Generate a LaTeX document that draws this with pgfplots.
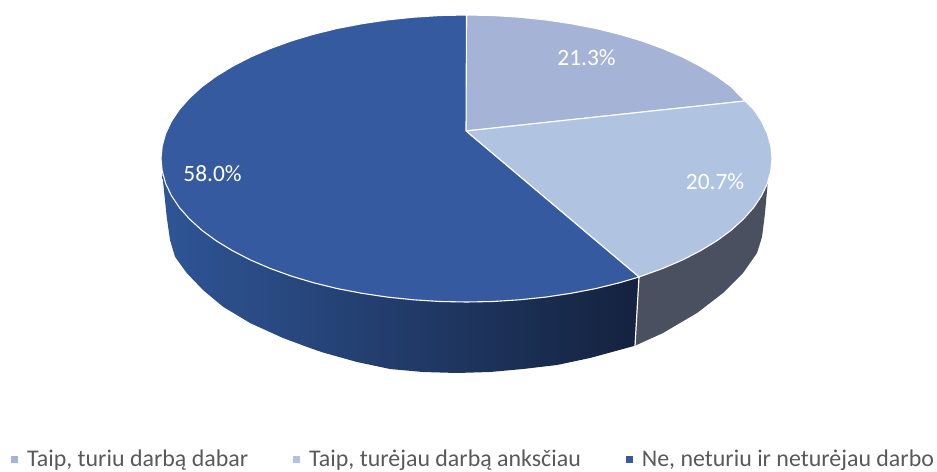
\documentclass[border=0pt]{standalone}
\usepackage{fontspec}
\setmainfont{Carlito}
\usepackage{pgfplots}
\pgfplotsset{compat=1.18}
\definecolor{sliceA}{HTML}{A5B3D6}
\definecolor{sliceB}{HTML}{B0C4E2}
\definecolor{sliceC}{HTML}{355A9F}
\definecolor{sideB}{HTML}{4A5060}
\definecolor{sideL}{HTML}{2F5596}
\definecolor{sideM}{HTML}{213A68}
\definecolor{sideR}{HTML}{14223E}
\definecolor{legtext}{HTML}{595959}
\begin{document}
\begin{tikzpicture}[x=1bp,y=1bp]
\useasboundingbox (0,0) rectangle (937bp,472bp);
\begin{axis}[
  at={(0,0)},anchor=south west,
  width=937bp,height=472bp,scale only axis,
  xmin=0,xmax=937,ymin=0,ymax=472,y dir=reverse,
  hide axis,
  legend columns=3,
  legend style={draw=none,fill=none,at={(0.0118,0.004)},anchor=south west,
    font=\fontsize{24}{26}\selectfont,text=legtext,inner sep=0pt,outer sep=0pt,
    /tikz/every even column/.append style={column sep=43bp},
    /tikz/every odd column/.append style={column sep=7bp}},
  legend image code/.code={\fill[#1,draw=none] (0bp,-3.5bp) rectangle (7bp,3.5bp);},
]
% side, dark-blue slice
\addplot[forget plot,draw=none,left color=sideL,middle color=sideM,right color=sideR] coordinates {
 (162.2,171)(162.7,178.3)(166.7,216.7)(170,240)(175,256.7)(186.7,273)(203,290)(223,306.7)(250,323)(283,338)
 (310,348)(323,352.5)(357,362)(390,369)(423,372)(457,373)(490,372)(523,369)(557,365)(590,358)(623,349)(635,345.7)(639,277)
} -- cycle;
% side, grey slice
\addplot[forget plot,draw=none,fill=sideB] coordinates {
 (639,277)(635,345.7)(663,333)(697,313)(723,293)(743,273)(757,253)(762,237)(765,213)(768,180)(770,171)
} -- cycle;
\addplot[forget plot,white,line width=1.2bp] coordinates {(639,277)(635,346)};
% top slices
\addplot[fill=sliceA,draw=white,line width=1.1bp] coordinates {
 (466,131)(466.5,15)(493.1,15.5)(519.5,17.2)(545.6,19.9)(571,23.7)(595.6,28.4)(619.3,34.2)(641.7,40.9)(662.9,48.6)(682.5,57)(700.5,66.3)(716.8,76.2)(731.1,86.7)(745,101)
} -- cycle;
\addlegendentry{Taip, turiu darbą dabar}
\addplot[fill=sliceB,draw=white,line width=1.1bp] coordinates {
 (466,131)(745,101)(753.6,109.4)(761.6,121.4)(767.4,133.6)(770.8,146)(772,158.5)(770.8,171)(767.4,183.4)(761.6,195.6)(753.6,207.6)(743.4,219.1)(731.1,230.3)(716.8,240.8)(700.5,250.7)(682.5,260)(662.9,268.4)(639,277)
} -- cycle;
\addlegendentry{Taip, turėjau darbą anksčiau}
\addplot[fill=sliceC,draw=white,line width=1.1bp] coordinates {
 (466,131)(639,277)(619.3,282.8)(595.6,288.6)(571,293.3)(545.6,297.1)(519.5,299.8)(493.1,301.5)(466.5,302)
 (439.9,301.5)(413.5,299.8)(387.4,297.1)(362,293.3)(337.4,288.6)(313.7,282.8)(291.3,276.1)(270.1,268.4)(250.5,260)(232.5,250.7)(216.2,240.8)(201.9,230.3)(189.6,219.1)(179.4,207.6)(171.4,195.6)(165.6,183.4)(162.2,171)(161,158.5)
 (162.2,146)(165.6,133.6)(171.4,121.4)(179.4,109.4)(189.6,97.9)(201.9,86.7)(216.2,76.2)(232.5,66.3)(250.5,57)(270.1,48.6)(291.3,40.9)(313.7,34.2)(337.4,28.4)(362,23.7)(387.4,19.9)(413.5,17.2)(439.9,15.5)(466.5,15)
} -- cycle;
\addlegendentry{Ne, neturiu ir neturėjau darbo}
\node[text=white,font=\fontsize{23.5}{24}\selectfont] at (axis cs:586.5,58) {21.3\%};
\node[text=white,font=\fontsize{23.5}{24}\selectfont] at (axis cs:715,182) {20.7\%};
\node[text=white,font=\fontsize{23.5}{24}\selectfont] at (axis cs:212.5,174) {58.0\%};
\end{axis}
\end{tikzpicture}
\end{document}
